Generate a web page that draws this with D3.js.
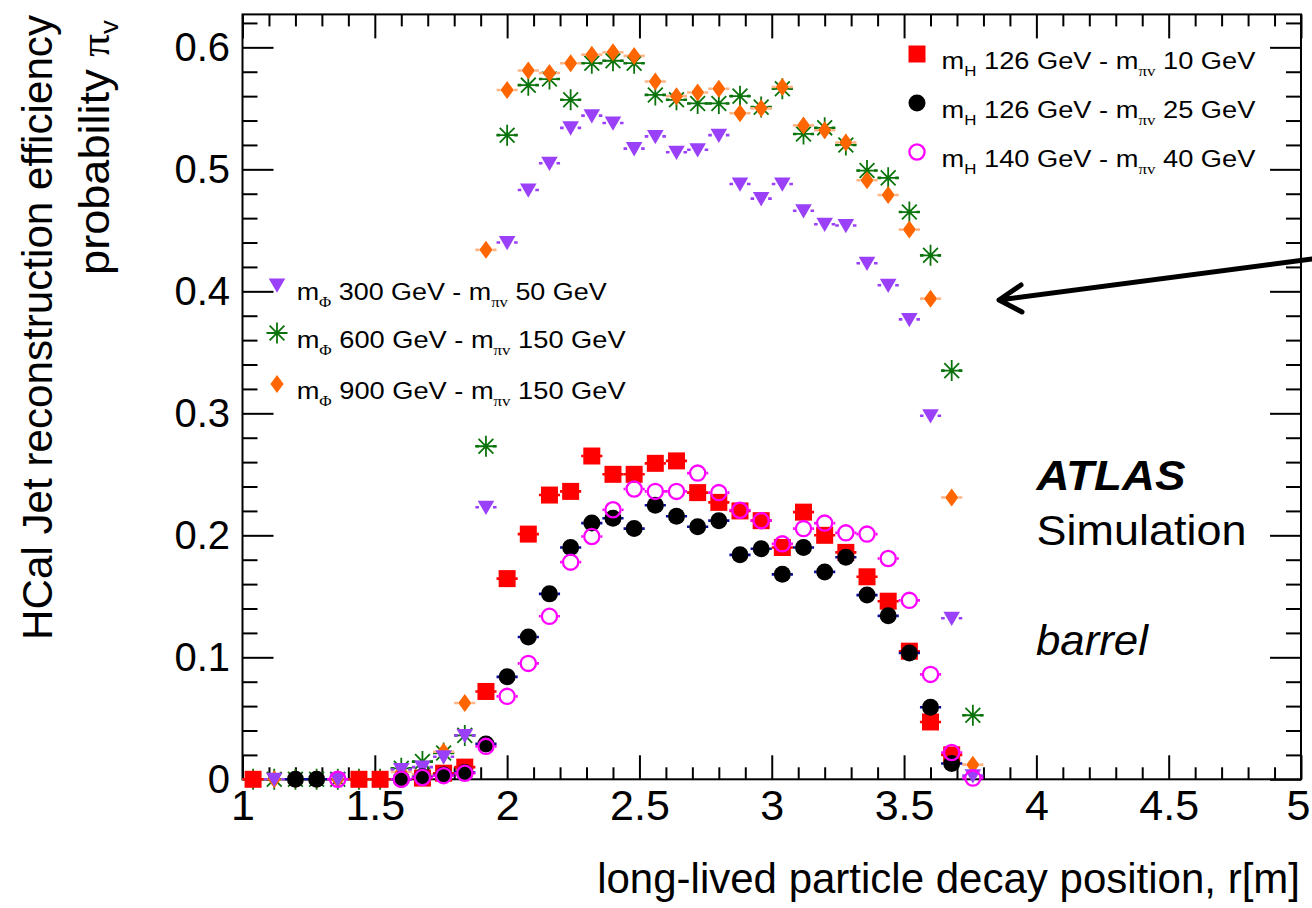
<!DOCTYPE html>
<html><head><meta charset="utf-8">
<script src="https://cdn.jsdelivr.net/npm/d3@7"></script>
<style>
body{margin:0;background:#fff}
svg{display:block}
text{font-family:"Liberation Sans",Arial,Helvetica,sans-serif;fill:#000}
</style>
</head><body>
<svg id="c" width="1312" height="908"></svg>
<script>
// ---------------- data ----------------
const binCenters = [1.04,1.12,1.20,1.28,1.36,1.44,1.52,1.60,1.68,1.76,1.84,1.92,2.00,2.08,2.16,2.24,2.32,2.40,2.48,2.56,2.64,2.72,2.80,2.88,2.96,3.04,3.12,3.20,3.28,3.36,3.44,3.52,3.60,3.68,3.76];
const binHalfWidth = 0.04;

const mH126mpi10 = [0,null,null,null,null,0,0,null,0.001,0.005,0.010,0.072,0.1645,0.201,0.233,0.236,0.265,0.250,0.250,0.259,0.261,0.235,0.227,0.220,0.212,0.190,0.219,0.200,0.186,0.166,0.146,0.105,0.047,0.020,null];
const mH126mpi25 = [null,null,0,0,null,null,null,0,0.002,0.0035,0.0055,0.029,0.084,0.1166,0.152,0.190,0.210,0.214,0.2055,0.2246,0.2156,0.207,0.212,0.184,0.189,0.168,0.190,0.170,0.182,0.151,0.134,0.1035,0.059,0.013,null];
const mH140mpi40 = [null,null,null,null,0,null,null,0,0.0015,0.003,0.005,0.027,0.068,0.095,0.1336,0.178,0.199,0.221,0.238,0.236,0.236,0.251,0.235,0.2205,0.212,0.193,0.2055,0.210,0.202,0.201,0.181,0.1467,0.086,0.022,0.001];
const mPhi300mpi50 = [null,0,null,null,0,null,null,0.008,0.010,0.0185,0.036,0.223,0.440,0.483,0.505,0.534,0.544,0.538,0.517,0.527,0.514,0.516,0.528,0.488,0.476,0.488,0.466,0.455,0.454,0.423,0.405,0.377,0.298,0.132,0.003];
const mPhi600mpi150 = [0,0,0,0,0,0,0,0.009,0.0145,0.0215,0.036,0.273,0.528,0.569,0.574,0.557,0.587,0.589,0.587,0.561,0.557,0.554,0.554,0.560,0.551,0.566,0.529,0.534,0.520,0.499,0.493,0.465,0.4295,0.335,0.0525];
const mPhi900mpi150 = [0,0,0,0,0,0,0,0.006,0.004,0.0226,0.0626,0.434,0.565,0.581,0.579,0.587,0.594,0.596,0.593,0.572,0.560,0.563,0.566,0.546,0.550,0.5675,0.536,0.532,0.522,0.491,0.479,0.4506,0.394,0.231,0.012];

const xTicks = [1,1.5,2,2.5,3,3.5,4,4.5,5];
const xTickLabels = ["1","1.5","2","2.5","3","3.5","4","4.5","5"];
const yTicks = [0,0.1,0.2,0.3,0.4,0.5,0.6];
const yTickLabels = ["0","0.1","0.2","0.3","0.4","0.5","0.6"];

const higgsLegend = [
  {series:"sq", main:"m", sub:"H", mid:" 126 GeV - m", sub2:"πv", tail:" 10 GeV"},
  {series:"ci", main:"m", sub:"H", mid:" 126 GeV - m", sub2:"πv", tail:" 25 GeV"},
  {series:"oc", main:"m", sub:"H", mid:" 140 GeV - m", sub2:"πv", tail:" 40 GeV"}
];
const phiLegend = [
  {series:"tr", main:"m", sub:"Φ", mid:" 300 GeV - m", sub2:"πv", tail:" 50 GeV"},
  {series:"st", main:"m", sub:"Φ", mid:" 600 GeV - m", sub2:"πv", tail:" 150 GeV"},
  {series:"di", main:"m", sub:"Φ", mid:" 900 GeV - m", sub2:"πv", tail:" 150 GeV"}
];

// ---------------- styles ----------------
const shapes = {
  sq:{d:"M-8.5,-8.5H8.5V8.5H-8.5Z", fill:"#ff0000", stroke:"none", sw:0, err:"#ff0000", gap:8},
  ci:{d:d3.symbol(d3.symbolCircle, Math.PI*8.5*8.5)(), fill:"#000", stroke:"none", sw:0, err:"#0a0a9a", gap:8},
  oc:{d:d3.symbol(d3.symbolCircle, Math.PI*7.6*7.6)(), fill:"none", stroke:"#ff00ff", sw:2.3, err:"#ff00ff", gap:8.7},
  tr:{d:"M-8.3,-6.5L8.3,-6.5L0,7.8Z", fill:"#9a40f8", stroke:"none", sw:0, err:"#9a40f8", gap:7},
  st:{d:"M-10.5,0H10.5M0,-10.5V10.5M-7.4,-7.4L7.4,7.4M-7.4,7.4L7.4,-7.4", fill:"none", stroke:"#0b730b", sw:1.8, err:"#0b730b", gap:7},
  di:{d:"M0,-9L6.6,0L0,9L-6.6,0Z", fill:"#ff6600", stroke:"none", sw:0, err:"#ffb585", gap:6.6}
};
const drawOrder = [
  {key:"st", vals:mPhi600mpi150},
  {key:"di", vals:mPhi900mpi150},
  {key:"tr", vals:mPhi300mpi50},
  {key:"sq", vals:mH126mpi10},
  {key:"ci", vals:mH126mpi25},
  {key:"oc", vals:mH140mpi40}
];

// ---------------- chart ----------------
const svg = d3.select("#c");
const X0 = 242.5, X1 = 1301, Y0 = 779.3, Y1 = 14.4;
const x = d3.scaleLinear().domain([1,5]).range([X0,X1]);
const y = d3.scaleLinear().domain([0,0.627]).range([Y0,Y1]);

function fitWidth(sel, targetW, ox){
  const n = sel.node();
  const w = n.getComputedTextLength();
  const k = targetW / w;
  const cur = sel.attr("transform") || "";
  sel.attr("transform", cur + ` translate(${ox},0) scale(${k},1) translate(${-ox},0)`);
}

// axes (ROOT style ticks inside, on all four sides)
const xMinor = d3.range(1,5.0001,0.1).map(v=>+v.toFixed(2)).filter(v=>!xTicks.some(t=>Math.abs(t-v)<1e-6));
const yMinor = d3.range(0,0.6201,0.02).map(v=>+v.toFixed(3)).filter(v=>!yTicks.some(t=>Math.abs(t-v)<1e-6));

function styleAxis(g){
  g.select(".domain").remove();
  g.selectAll(".tick line").attr("stroke","#000").attr("stroke-width",2);
}
const gxB = svg.append("g").attr("transform",`translate(0,${Y0})`)
  .call(d3.axisBottom(x).tickValues(xTicks).tickFormat((d,i)=>xTickLabels[i]).tickSize(-24).tickPadding(10));
styleAxis(gxB);
gxB.selectAll("text").attr("font-size",43).attr("font-family","Liberation Sans, Arial, sans-serif").attr("fill","#000");
gxB.selectAll(".tick").filter(d=>d===5).select("text").attr("dx",-3);
const gxBm = svg.append("g").attr("transform",`translate(0,${Y0})`)
  .call(d3.axisBottom(x).tickValues(xMinor).tickFormat("").tickSize(-12));
styleAxis(gxBm);
const gxT = svg.append("g").attr("transform",`translate(0,${Y1})`)
  .call(d3.axisTop(x).tickValues(xTicks).tickFormat("").tickSize(-24));
styleAxis(gxT);
const gxTm = svg.append("g").attr("transform",`translate(0,${Y1})`)
  .call(d3.axisTop(x).tickValues(xMinor).tickFormat("").tickSize(-12));
styleAxis(gxTm);

const gyL = svg.append("g").attr("transform",`translate(${X0},0)`)
  .call(d3.axisLeft(y).tickValues(yTicks).tickFormat((d,i)=>yTickLabels[i]).tickSize(-31).tickPadding(12.5));
styleAxis(gyL);
gyL.selectAll("text").attr("font-size",40).attr("font-family","Liberation Sans, Arial, sans-serif").attr("fill","#000");
const gyLm = svg.append("g").attr("transform",`translate(${X0},0)`)
  .call(d3.axisLeft(y).tickValues(yMinor).tickFormat("").tickSize(-15));
styleAxis(gyLm);
const gyR = svg.append("g").attr("transform",`translate(${X1},0)`)
  .call(d3.axisRight(y).tickValues(yTicks).tickFormat("").tickSize(-31));
styleAxis(gyR);
const gyRm = svg.append("g").attr("transform",`translate(${X1},0)`)
  .call(d3.axisRight(y).tickValues(yMinor).tickFormat("").tickSize(-15));
styleAxis(gyRm);

svg.append("rect").attr("x",X0).attr("y",Y1).attr("width",X1-X0).attr("height",Y0-Y1)
  .attr("fill","none").attr("stroke","#000").attr("stroke-width",2);

// series
const plot = svg.append("g");
drawOrder.forEach(s=>{
  const sh = shapes[s.key];
  const pts = binCenters.map((c,i)=>({c, v:s.vals[i]})).filter(p=>p.v!==null);
  const g = plot.append("g");
  const hw = x(1+binHalfWidth) - x(1);
  g.selectAll("path.eb").data(pts).enter().append("path").attr("class","eb")
    .attr("d",p=>{const cx=x(p.c), cy=y(p.v);
      return `M${cx-hw},${cy}H${cx-sh.gap}M${cx+sh.gap},${cy}H${cx+hw}`;})
    .attr("stroke",sh.err).attr("stroke-width",2.6).attr("fill","none");
  g.selectAll("path.mk").data(pts).enter().append("path").attr("class","mk")
    .attr("transform",p=>`translate(${x(p.c)},${y(p.v)})`)
    .attr("d",sh.d).attr("fill",sh.fill).attr("stroke",sh.stroke).attr("stroke-width",sh.sw);
});

// legends
function legendText(g, e, tx, ty, fs){
  const t = g.append("text").attr("x",tx).attr("y",ty).attr("font-size",fs);
  const sfs = fs*0.62, dy = fs*0.3;
  t.append("tspan").text(e.main);
  t.append("tspan").attr("font-size",sfs).attr("dy",dy)
    .attr("font-family", e.sub==="Φ" ? "Liberation Serif, DejaVu Serif, serif" : null).text(e.sub);
  t.append("tspan").attr("dy",-dy).text(e.mid);
  t.append("tspan").attr("font-size",sfs).attr("dy",dy).attr("font-family","Liberation Serif, DejaVu Serif, serif").text(e.sub2);
  t.append("tspan").attr("dy",-dy).text(e.tail);
  return t;
}
const lg1 = svg.append("g");
const lg1Rows = [54,103,152];
higgsLegend.forEach((e,i)=>{
  const sh = shapes[e.series];
  lg1.append("path").attr("transform",`translate(917,${lg1Rows[i]})`).attr("d",sh.d)
    .attr("fill",sh.fill).attr("stroke",sh.stroke).attr("stroke-width",sh.sw);
  const t = legendText(lg1, e, 941.5, lg1Rows[i]+15, 24.5);
  fitWidth(t, 314, 941.5);
});
const lg2 = svg.append("g");
const lg2Rows = [285,333,384];
const lg2W = [310,329,329];
phiLegend.forEach((e,i)=>{
  const sh = shapes[e.series];
  lg2.append("path").attr("transform",`translate(277,${lg2Rows[i]})`).attr("d",sh.d)
    .attr("fill",sh.fill).attr("stroke",sh.stroke).attr("stroke-width",sh.sw);
  const t = legendText(lg2, e, 296.7, lg2Rows[i]+15, 24.5);
  fitWidth(t, lg2W[i], 296.7);
});

// ATLAS labels
const a1 = svg.append("text").attr("x",1036.5).attr("y",490).attr("font-size",42)
  .attr("font-weight","bold").attr("font-style","italic").text("ATLAS");
fitWidth(a1,149,1036.5);
const a2 = svg.append("text").attr("x",1036.5).attr("y",545).attr("font-size",42).text("Simulation");
fitWidth(a2,210,1036.5);
const a3 = svg.append("text").attr("x",1036).attr("y",655).attr("font-size",42)
  .attr("font-style","italic").text("barrel");
fitWidth(a3,112,1036);

// arrow
svg.append("path").attr("d","M1312,259L999,300M1021,285L999,300L1022,312")
  .attr("fill","none").attr("stroke","#000").attr("stroke-width",5)
  .attr("stroke-linecap","round").attr("stroke-linejoin","round");

// axis titles
const xt = svg.append("text").attr("x",1300).attr("y",893).attr("font-size",42)
  .attr("text-anchor","end").text("long-lived particle decay position, r[m]");
{ const w = xt.node().getComputedTextLength(); const k = 703/w;
  xt.attr("transform",`translate(1300,0) scale(${k},1) translate(-1300,0)`); }

const yt1 = svg.append("text").attr("font-size",42).attr("text-anchor","end")
  .text("HCal Jet reconstruction efficiency");
{ const w = yt1.node().getComputedTextLength(); const k = 625/w;
  yt1.attr("transform",`translate(52,15) rotate(-90) scale(${k},1)`); }
const yt2 = svg.append("text").attr("font-size",42).attr("text-anchor","end");
yt2.append("tspan").text("probability ");
yt2.append("tspan").attr("font-family","Liberation Serif, DejaVu Serif, serif").text("π");
yt2.append("tspan").attr("font-size",26).attr("dy",9).text("v");
{ const w = yt2.node().getComputedTextLength(); const k = 255/w;
  yt2.attr("transform",`translate(109,20) rotate(-90) scale(${k},1)`); }
</script>
</body></html>
